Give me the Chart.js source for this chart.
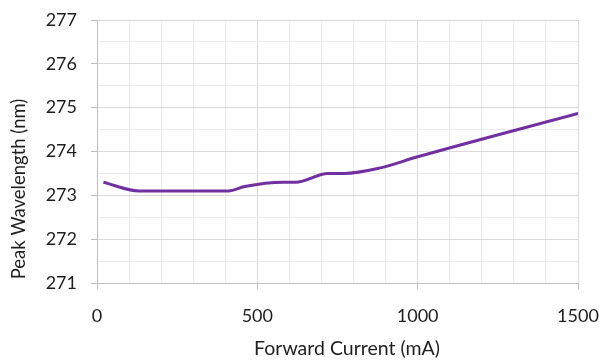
<!DOCTYPE html>
<html>
<head>
<meta charset="utf-8">
<script src="https://cdn.jsdelivr.net/npm/chart.js@4/dist/chart.umd.min.js"></script>
<style>
  html, body { margin: 0; padding: 0; background: #fff; }
  #wrap { width: 601px; height: 360px; }
</style>
</head>
<body>
<div id="wrap"><canvas id="c" width="601" height="360"></canvas></div>
<script>
// Forward current (mA) and measured peak wavelength (nm)
const currentMA = [20, 130, 270, 410, 460, 580, 620, 720, 770, 880, 1000, 1500];
const peakNm = [273.3, 273.1, 273.1, 273.1, 273.2, 273.3, 273.3, 273.5, 273.5, 273.62, 273.88, 274.87];

const xTickLabels = [0, 500, 1000, 1500];
const yTickLabels = [271, 272, 273, 274, 275, 276, 277];

const xTitle = 'Forward Current (mA)';
const yTitle = 'Peak Wavelength (nm)';

const majorGrid = '#d9d9d9';
const minorGrid = '#ececec';
const textColor = '#1e1e1e';
const fontFamily = 'Lato, "Open Sans", sans-serif';

const points = currentMA.map((x, i) => ({ x, y: peakNm[i] }));

// Axis titles drawn in the margins, placed like the spreadsheet layout
const axisTitles = {
  id: 'axisTitles',
  afterDraw(chart) {
    const ctx = chart.ctx;
    ctx.save();
    ctx.fillStyle = textColor;
    ctx.textAlign = 'center';
    ctx.textBaseline = 'middle';
    ctx.font = '19.5px ' + fontFamily;
    ctx.fillText(xTitle, 347, 349);
    ctx.translate(19, 189);
    ctx.rotate(-Math.PI / 2);
    ctx.font = '18.5px ' + fontFamily;
    ctx.fillText(yTitle, 0, 0);
    ctx.restore();
  }
};

new Chart(document.getElementById('c'), {
  type: 'line',
  data: {
    datasets: [{
      data: points,
      borderColor: '#7030A0',
      borderWidth: 3,
      pointRadius: 0,
      fill: false,
      cubicInterpolationMode: 'monotone'
    }]
  },
  options: {
    responsive: false,
    animation: false,
    devicePixelRatio: 1,
    layout: { padding: { left: 0, right: 23, top: 20, bottom: 0 } },
    plugins: { legend: { display: false }, tooltip: { enabled: false } },
    scales: {
      x: {
        type: 'linear',
        min: 0, max: 1500,
        afterFit: s => { s.height = 77; s.paddingLeft = 0; s.paddingRight = 0; },
        border: { color: '#bfbfbf', width: 1 },
        grid: {
          color: c => (xTickLabels.includes(c.tick.value) ? majorGrid : minorGrid),
          tickColor: c => (xTickLabels.includes(c.tick.value) ? '#bfbfbf' : 'rgba(0,0,0,0)'),
          tickLength: 6
        },
        ticks: {
          stepSize: 100,
          autoSkip: false,
          maxRotation: 0,
          padding: 16,
          color: textColor,
          font: { family: fontFamily, size: 18 },
          callback: v => (xTickLabels.includes(v) ? String(v) : '')
        }
      },
      y: {
        type: 'linear',
        min: 271, max: 277,
        afterFit: s => { s.width = 97; s.paddingTop = 0; s.paddingBottom = 0; },
        border: { color: '#bfbfbf', width: 1 },
        grid: {
          color: c => (yTickLabels.includes(c.tick.value) ? majorGrid : minorGrid),
          tickColor: c => (yTickLabels.includes(c.tick.value) ? '#bfbfbf' : 'rgba(0,0,0,0)'),
          tickLength: 6
        },
        ticks: {
          stepSize: 0.5,
          autoSkip: false,
          padding: 14,
          color: textColor,
          font: { family: fontFamily, size: 18 },
          callback: v => (yTickLabels.includes(v) ? String(v) : '')
        }
      }
    }
  },
  plugins: [axisTitles]
});
</script>
</body>
</html>
